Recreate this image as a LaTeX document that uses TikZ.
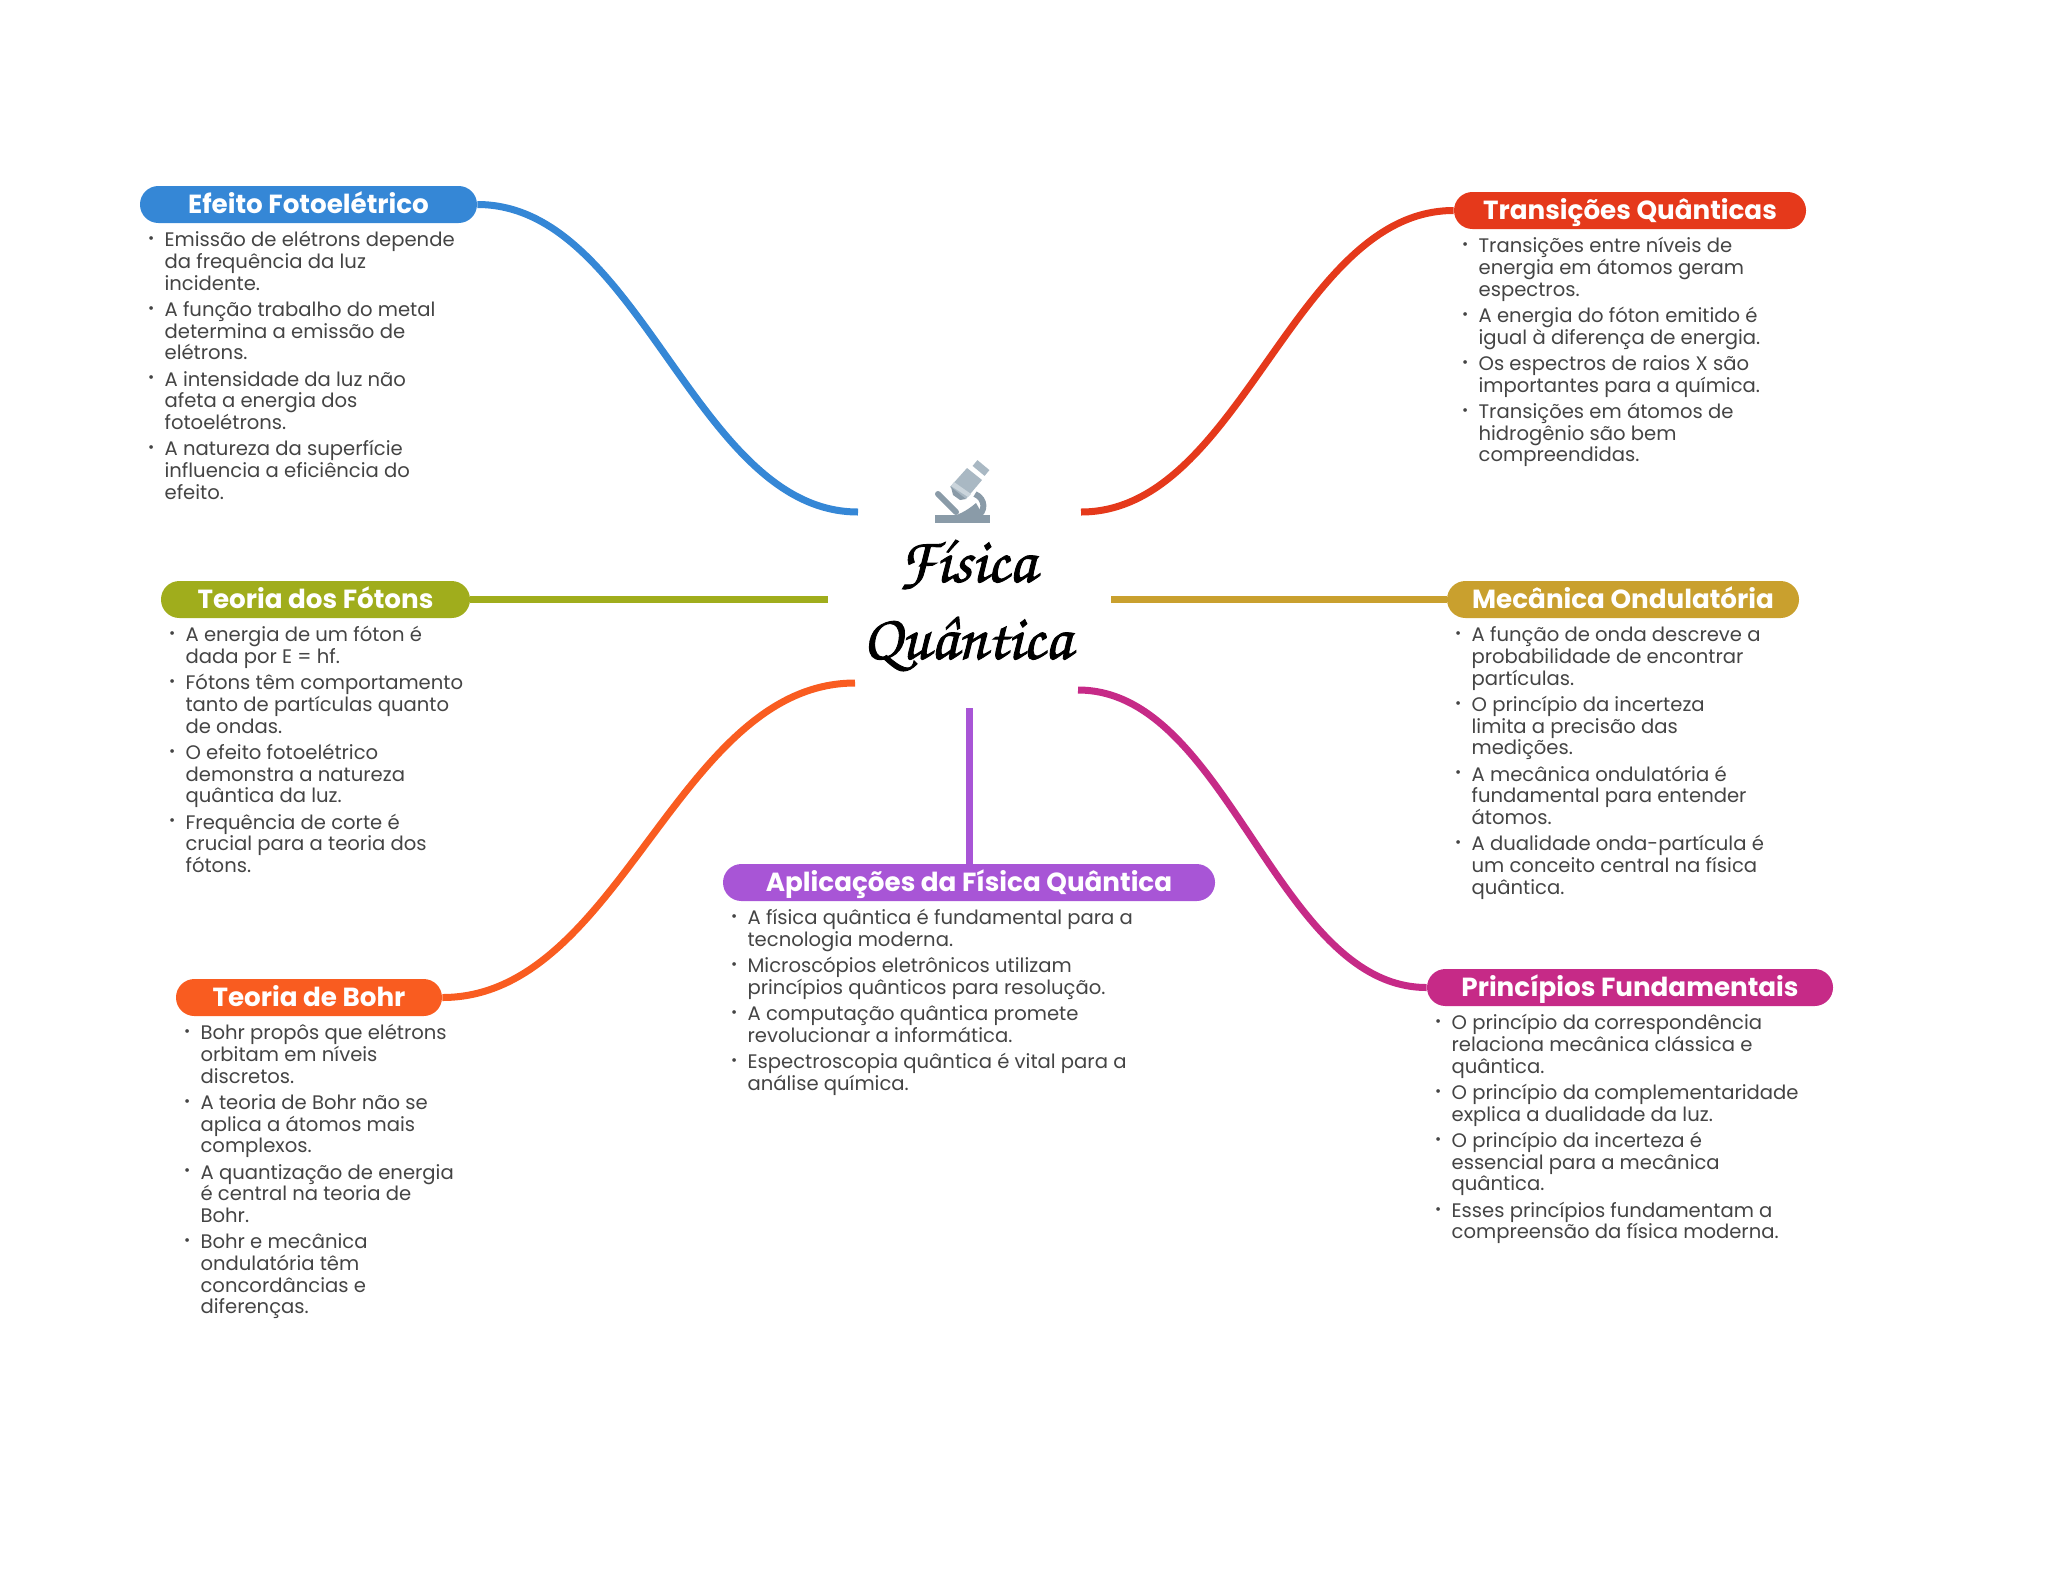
\documentclass[tikz,border=0pt]{standalone}
\usepackage[T1]{fontenc}
\usepackage{fontspec}
\setmainfont{Poppins}
\usepackage{xcolor}
\usetikzlibrary{positioning}
\definecolor{azul}{HTML}{3587D6}
\definecolor{vermelho}{HTML}{E5391B}
\definecolor{oliva}{HTML}{A0AD1C}
\definecolor{ouro}{HTML}{C9A02E}
\definecolor{roxo}{HTML}{A855D6}
\definecolor{laranja}{HTML}{F95C20}
\definecolor{magenta2}{HTML}{C62A87}
\definecolor{corpo}{HTML}{444444}
\definecolor{microescuro}{HTML}{8A9BA8}
\definecolor{microclaro}{HTML}{A9B8C3}
\definecolor{microfaixa}{HTML}{CBD5DC}
\normallineskiplimit=-10pt
\lineskiplimit=-10pt
\tikzstyle{tema}=[%
      rectangle, rounded corners=9.2pt, text=white, inner sep=0pt,
      minimum height=18.5pt, text height=9pt, text depth=0.5pt, align=center,
      font=\fontsize{13.1}{15}\selectfont\bfseries
]
\tikzstyle{notas}=[%
      inner sep=0pt, align=left, text=corpo,
      font=\fontsize{9.8}{10.83}\selectfont
]
\tikzstyle{ramo}=[line width=3.5pt]
\newcommand{\bp}{\rule{0pt}{9pt}\makebox[8.5pt][l]{\hspace*{.2pt}\raisebox{1.6pt}{\fontsize{7.5}{7.5}\selectfont\textbullet}}}
\newcommand{\ct}{\hspace*{8.5pt}}
\newcommand{\grosso}[1]{\special{pdf:code q 2 Tr 0.45 w}#1\special{pdf:code Q}}
\begin{document}
\begin{tikzpicture}[x=0.5pt, y=-0.5pt]
    \useasboundingbox (0,0) rectangle (2048,1569);

    % temas
    \node[tema, fill=azul, minimum width=168.5pt]     (efeito)      at (308.5,204.5) {Efeito Fotoelétrico};
    \node[tema, fill=vermelho, minimum width=176pt]   (transicoes)  at (1630,210.5)  {Transições Quânticas};
    \node[tema, fill=oliva, minimum width=154.5pt]    (fotons)      at (315.5,599.5) {Teoria dos Fótons};
    \node[tema, fill=ouro, minimum width=176pt]       (ondulatoria) at (1623,599.5)  {Mecânica Ondulatória};
    \node[tema, fill=roxo, minimum width=246pt]       (aplicacoes)  at (969,882.5)   {Aplicações da Física Quântica};
    \node[tema, fill=laranja, minimum width=133pt]    (bohr)        at (309,997.5)   {Teoria de Bohr};
    \node[tema, fill=magenta2, minimum width=203pt]   (principios)  at (1630,987.5)  {Princípios Fundamentais};

    % centro
    \node[inner sep=0pt, align=center, font=\fontencoding{T1}\fontfamily{pzc}\fontseries{mb}\fontshape{it}\fontsize{32}{38.5}\selectfont]
        (fisica) at (967,605) {\grosso{F\'{\i}sica}\\\grosso{Qu\^antica}};
    \coordinate (c1) at (858,512);
    \coordinate (c2) at (1081,512);
    \coordinate (c3) at (828,599.5);
    \coordinate (c4) at (1111,599.5);
    \coordinate (c5) at (855,683);
    \coordinate (c6) at (1078,690);
    \coordinate (c7) at (969,708);

    % ramos
    \draw[ramo, azul]     (efeito.east) .. controls +(163,0) and +(-163,0) .. (c1);
    \draw[ramo, vermelho] (transicoes.west) .. controls +(-160,0) and +(160,0) .. (c2);
    \draw[ramo, oliva]    (fotons.east) -- (c3);
    \draw[ramo, ouro]     (ondulatoria.west) -- (c4);
    \draw[ramo, laranja]  (bohr.east) .. controls +(178,0) and +(-178,0) .. (c5);
    \draw[ramo, magenta2] (principios.west) .. controls +(-150,0) and +(150,0) .. (c6);
    \draw[ramo, roxo]     (aplicacoes.north) -- (c7);

    % notas
    \node[notas] (n1) [below right=2.5pt and 3.8pt of efeito.south west] {%
      \bp Emissão de elétrons depende\\ \ct da frequência da luz\\ \ct incidente.\\[2.35pt]
      \bp A função trabalho do metal\\ \ct determina a emissão de\\ \ct elétrons.\\[2.35pt]
      \bp A intensidade da luz não\\ \ct afeta a energia dos\\ \ct fotoelétrons.\\[2.35pt]
      \bp A natureza da superfície\\ \ct influencia a eficiência do\\ \ct efeito.};
    \node[notas] (n2) [below right=2.5pt and 3.8pt of transicoes.south west] {%
      \bp Transições entre níveis de\\ \ct energia em átomos geram\\ \ct espectros.\\[2.35pt]
      \bp A energia do fóton emitido é\\ \ct igual à diferença de energia.\\[2.35pt]
      \bp Os espectros de raios X são\\ \ct importantes para a química.\\[2.35pt]
      \bp Transições em átomos de\\ \ct hidrogênio são bem\\ \ct compreendidas.};
    \node[notas] (n3) [below right=2.5pt and 3.8pt of fotons.south west] {%
      \bp A energia de um fóton é\\ \ct dada por E = hf.\\[2.35pt]
      \bp Fótons têm comportamento\\ \ct tanto de partículas quanto\\ \ct de ondas.\\[2.35pt]
      \bp O efeito fotoelétrico\\ \ct demonstra a natureza\\ \ct quântica da luz.\\[2.35pt]
      \bp Frequência de corte é\\ \ct crucial para a teoria dos\\ \ct fótons.};
    \node[notas] (n4) [below right=2.5pt and 3.8pt of ondulatoria.south west] {%
      \bp A função de onda descreve a\\ \ct probabilidade de encontrar\\ \ct partículas.\\[2.35pt]
      \bp O princípio da incerteza\\ \ct limita a precisão das\\ \ct medições.\\[2.35pt]
      \bp A mecânica ondulatória é\\ \ct fundamental para entender\\ \ct átomos.\\[2.35pt]
      \bp A dualidade onda-partícula é\\ \ct um conceito central na física\\ \ct quântica.};
    \node[notas] (n5) [below right=2.5pt and 3.8pt of aplicacoes.south west] {%
      \bp A física quântica é fundamental para a\\ \ct tecnologia moderna.\\[2.35pt]
      \bp Microscópios eletrônicos utilizam\\ \ct princípios quânticos para resolução.\\[2.35pt]
      \bp A computação quântica promete\\ \ct revolucionar a informática.\\[2.35pt]
      \bp Espectroscopia quântica é vital para a\\ \ct análise química.};
    \node[notas] (n6) [below right=2.5pt and 3.8pt of bohr.south west] {%
      \bp Bohr propôs que elétrons\\ \ct orbitam em níveis\\ \ct discretos.\\[2.35pt]
      \bp A teoria de Bohr não se\\ \ct aplica a átomos mais\\ \ct complexos.\\[2.35pt]
      \bp A quantização de energia\\ \ct é central na teoria de\\ \ct Bohr.\\[2.35pt]
      \bp Bohr e mecânica\\ \ct ondulatória têm\\ \ct concordâncias e\\ \ct diferenças.};
    \node[notas] (n7) [below right=2.5pt and 3.8pt of principios.south west] {%
      \bp O princípio da correspondência\\ \ct relaciona mecânica clássica e\\ \ct quântica.\\[2.35pt]
      \bp O princípio da complementaridade\\ \ct explica a dualidade da luz.\\[2.35pt]
      \bp O princípio da incerteza é\\ \ct essencial para a mecânica\\ \ct quântica.\\[2.35pt]
      \bp Esses princípios fundamentam a\\ \ct compreensão da física moderna.};

    % microscopio
    \fill[microescuro] (935,515) rectangle (990,523);
    \fill[microescuro] (950,517) .. controls (962,514) and (970,508) .. (976,503) -- (984,517) -- cycle;
    \draw[line width=3pt, microescuro] (975,494) .. controls (986,499) and (986,512) .. (976,517);
    \draw[line width=3pt, line cap=round, microescuro] (938,494) -- (956,512);
    \fill[microclaro] (967,468) -- (982,480) -- (966,499) -- (950,487) -- cycle;
    \fill[microfaixa] (954,482) -- (971,494) -- (968,497) -- (951,486) -- cycle;
    \fill[microescuro] (951,487) -- (966,499) -- (960,500) -- (953,495) -- cycle;
    \draw[line width=3.8pt, microclaro] (975,463) -- (987,473);
\end{tikzpicture}
\end{document}
